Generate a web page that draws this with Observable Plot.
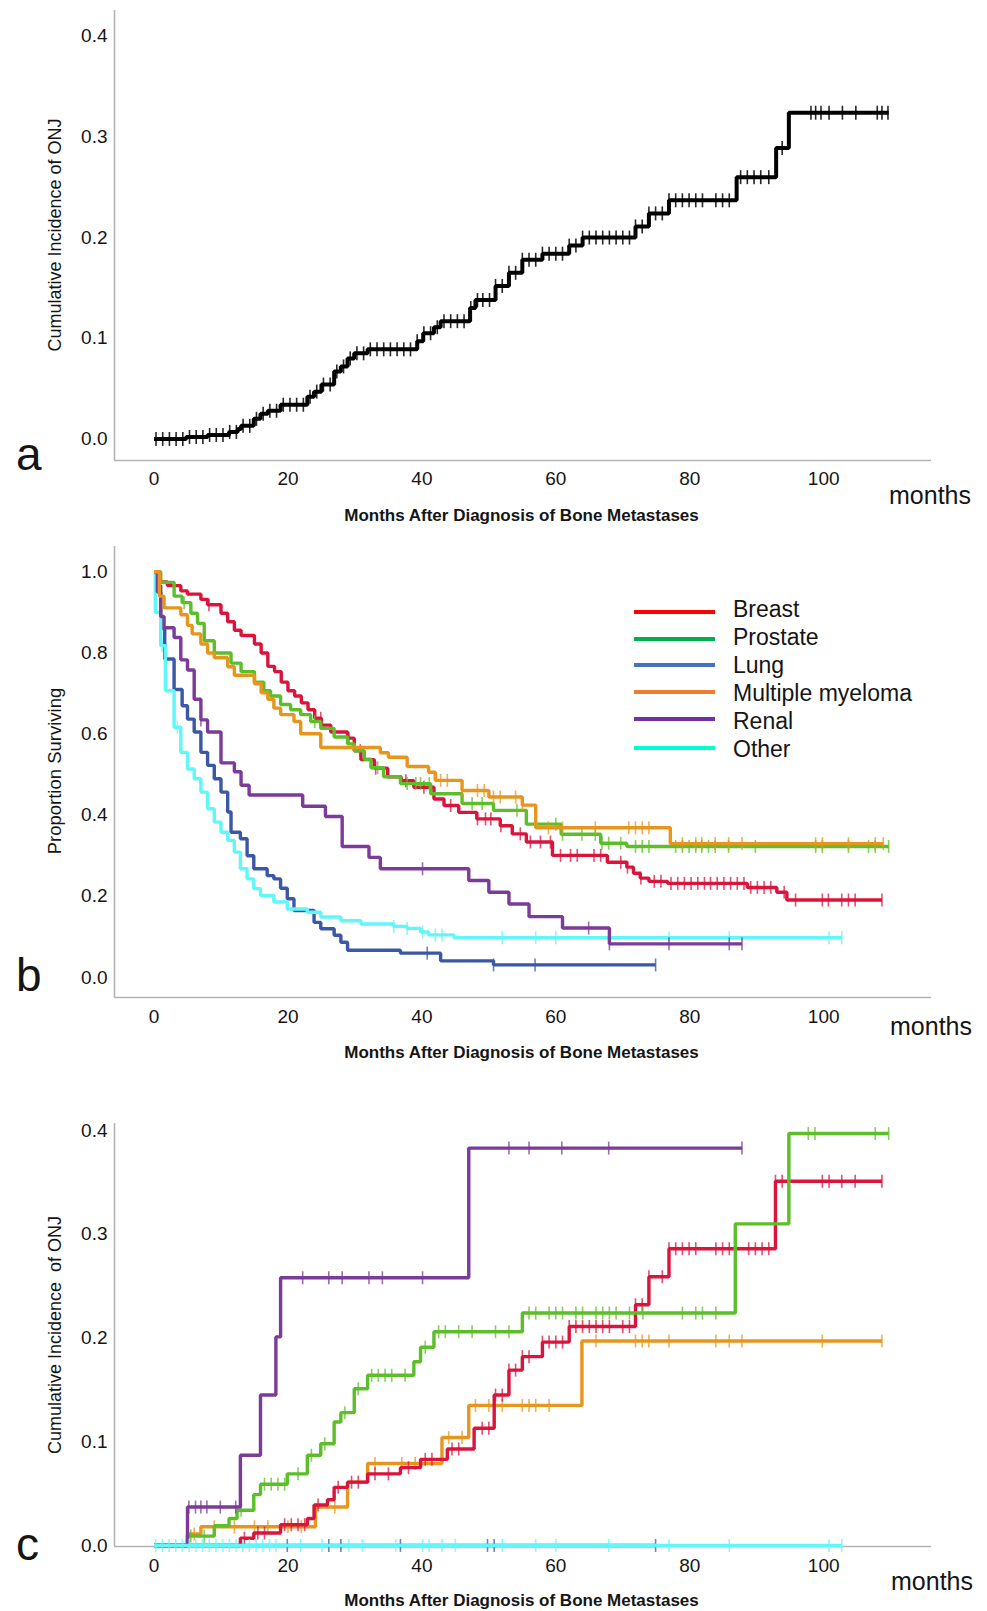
<!DOCTYPE html>
<html><head><meta charset="utf-8">
<script src="https://cdn.jsdelivr.net/npm/d3@7"></script>
<script src="https://cdn.jsdelivr.net/npm/@observablehq/plot@0.6"></script>
<style>
body{margin:0;background:#fff;}
#wrap{position:relative;width:987px;height:1611px;font-family:"Liberation Sans",Arial,sans-serif;color:#151515;overflow:hidden;background:#fff;}
.t{position:absolute;white-space:pre;line-height:1;}
.panel{position:absolute;left:0;}
.lg{position:absolute;height:4px;width:81px;}
</style></head><body><div id="wrap"></div>
<script>
// ---------- shared axis values ----------
const monthTicks = [0, 20, 40, 60, 80, 100];
const xDomain = [-5.9, 116.1];
const incidenceTicks = [0, 0.1, 0.2, 0.3, 0.4];
const survivalTicks = [0, 0.2, 0.4, 0.6, 0.8, 1.0];
const groups = ["Breast", "Prostate", "Lung", "Multiple myeloma", "Renal", "Other"];
const curveColors = ["#d9143d", "#5cbf2a", "#3b58a6", "#e8951d", "#7b3b98", "#60f7fb"];
const legendColors = ["#ff0000", "#00b050", "#4472c4", "#ed7d31", "#7030a0", "#00ffd0"];

// ---------- panel a: overall cumulative incidence of ONJ ----------
const allT = [0, 4.8, 8.0, 11.2, 12.5, 13.0, 14.9, 15.9, 17.0, 18.9, 22.9, 23.9, 25.0, 26.9, 27.9, 28.9, 29.9, 31.9, 39.3, 40.2, 41.8, 42.8, 47.2, 48.0, 51.0, 53.0, 55.0, 58.0, 62.0, 64.0, 71.9, 73.9, 76.9, 87.0, 92.9, 94.8, 109.7];
const allV = [0, 0.002, 0.004, 0.007, 0.010, 0.013, 0.020, 0.025, 0.028, 0.034, 0.042, 0.047, 0.054, 0.067, 0.072, 0.080, 0.085, 0.089, 0.097, 0.105, 0.111, 0.117, 0.130, 0.138, 0.152, 0.165, 0.178, 0.184, 0.192, 0.200, 0.211, 0.224, 0.237, 0.260, 0.289, 0.324, 0.324];
const allC = [0.3, 1.3, 2.3, 3.3, 4.3, 5.3, 6.3, 7.3, 8.3, 9.3, 10.3, 11.3, 12.3, 13.3, 14.3, 15.3, 16.3, 17.3, 18.3, 19.3, 20.3, 21.3, 22.3, 23.3, 24.3, 25.3, 26.3, 27.3, 28.3, 29.3, 30.3, 31.3, 32.3, 33.3, 34.3, 35.3, 36.3, 37.3, 38.3, 39.3, 40.3, 41.3, 42.3, 43.3, 44.3, 45.3, 46.3, 47.3, 48.3, 49.1, 50.1, 51.0, 52.0, 53.0, 54.0, 55.0, 56.0, 57.0, 58.0, 59.0, 60.0, 61.0, 62.0, 63.0, 64.0, 65.0, 66.0, 67.0, 68.0, 69.0, 70.0, 71.0, 71.9, 72.9, 73.9, 74.9, 75.9, 76.9, 77.9, 78.9, 79.9, 80.9, 81.9, 83.9, 84.9, 85.9, 87.6, 88.6, 89.6, 90.6, 91.8, 93.8, 98.1, 98.8, 99.6, 100.8, 102.8, 104.8, 108.0, 108.7, 109.6];

// ---------- panel b: survival by primary tumour ----------
const survBreastT = [0, 0.8, 2.0, 4.0, 5.0, 7.0, 8.0, 10.0, 11.0, 12.0, 13.0, 15.0, 16.0, 17.0, 18.0, 19.0, 20.0, 21.0, 22.0, 23.0, 24.0, 25.0, 26.4, 28.9, 29.9, 30.9, 32.9, 34.9, 36.9, 38.8, 41.8, 43.3, 45.5, 48.2, 51.7, 53.5, 55.6, 59.5, 67.7, 70.6, 71.6, 72.6, 73.9, 76.7, 88.6, 93.0, 94.5, 108.7];
const survBreastV = [1, 0.975, 0.966, 0.953, 0.945, 0.932, 0.919, 0.898, 0.877, 0.856, 0.843, 0.822, 0.800, 0.767, 0.754, 0.728, 0.707, 0.694, 0.677, 0.660, 0.639, 0.622, 0.605, 0.590, 0.559, 0.537, 0.516, 0.495, 0.485, 0.469, 0.440, 0.424, 0.407, 0.391, 0.374, 0.354, 0.334, 0.301, 0.284, 0.272, 0.257, 0.245, 0.237, 0.232, 0.222, 0.210, 0.191, 0.191];
const survBreastC = [8.2, 24.9, 29.1, 30.8, 33.1, 37.6, 40.3, 44.3, 48.3, 49.5, 50.3, 51.8, 54.7, 56.2, 57.7, 59.2, 60.7, 62.2, 63.2, 65.7, 66.7, 69.7, 70.7, 72.7, 74.7, 75.7, 77.2, 78.2, 79.2, 80.2, 81.2, 82.2, 83.1, 84.1, 85.1, 86.1, 87.1, 88.1, 89.1, 90.1, 91.1, 92.1, 94.1, 95.8, 99.8, 100.7, 102.7, 103.7, 104.7, 108.7];

const survProstateT = [0, 1.0, 3.0, 4.2, 5.5, 6.5, 7.5, 9.0, 11.5, 13.0, 15.0, 16.4, 17.4, 18.9, 20.4, 21.9, 23.4, 24.9, 26.9, 28.9, 29.9, 31.4, 32.4, 34.3, 36.8, 41.3, 46.0, 50.7, 55.6, 60.8, 66.7, 70.6, 109.7];
const survProstateV = [1, 0.974, 0.94, 0.924, 0.898, 0.873, 0.83, 0.80, 0.775, 0.754, 0.728, 0.707, 0.694, 0.673, 0.660, 0.648, 0.631, 0.614, 0.593, 0.576, 0.559, 0.538, 0.517, 0.495, 0.478, 0.453, 0.429, 0.412, 0.378, 0.353, 0.331, 0.323, 0.323];
const survProstateC = [4.5, 24.0, 33.4, 37.8, 39.1, 39.8, 41.1, 47.5, 49.0, 54.2, 60.0, 61.0, 63.9, 65.9, 66.9, 67.9, 69.7, 71.9, 72.9, 73.9, 77.9, 78.9, 79.9, 80.9, 81.8, 82.8, 83.8, 85.8, 89.8, 98.8, 99.8, 103.7, 106.7, 107.7, 109.7];

const survLungT = [0, 0.5, 1.0, 1.6, 3.0, 4.2, 5.0, 6.0, 7.0, 8.0, 9.0, 10.0, 11.0, 11.5, 12.9, 13.9, 14.9, 16.9, 17.9, 18.9, 19.9, 20.9, 23.9, 24.9, 26.9, 27.9, 28.9, 36.8, 42.8, 50.7, 74.9];
const survLungV = [1, 0.966, 0.86, 0.785, 0.71, 0.67, 0.637, 0.605, 0.555, 0.523, 0.49, 0.457, 0.408, 0.358, 0.342, 0.30, 0.268, 0.251, 0.243, 0.22, 0.194, 0.165, 0.136, 0.12, 0.104, 0.087, 0.067, 0.06, 0.041, 0.031, 0.031];
const survLungC = [1.6, 40.8, 50.7, 56.9, 74.9];

const survMyelomaT = [0, 0.8, 1.5, 4.0, 5.0, 5.7, 7.0, 8.0, 9.0, 11.0, 12.0, 15.0, 16.0, 17.0, 17.9, 18.9, 20.9, 21.9, 24.9, 33.8, 35.0, 37.8, 41.0, 42.0, 46.0, 50.0, 55.0, 57.0, 77.1, 108.9];
const survMyelomaV = [1, 0.94, 0.911, 0.894, 0.868, 0.847, 0.822, 0.800, 0.788, 0.766, 0.745, 0.724, 0.702, 0.686, 0.664, 0.648, 0.631, 0.601, 0.567, 0.554, 0.543, 0.520, 0.506, 0.486, 0.461, 0.445, 0.425, 0.369, 0.330, 0.330];
const survMyelomaC = [42.8, 43.8, 46.0, 48.3, 49.3, 50.7, 51.7, 54.0, 55.0, 58.9, 61.0, 65.9, 70.9, 71.9, 72.9, 73.9, 78.9, 80.9, 81.8, 83.8, 85.8, 87.8, 98.8, 99.8, 103.7, 107.7, 108.9];

const survRenalT = [0, 0.5, 1.0, 1.5, 3.0, 4.0, 5.0, 6.0, 7.0, 8.0, 10.0, 12.0, 13.0, 14.2, 22.2, 25.6, 28.1, 32.1, 33.8, 47.0, 50.0, 53.0, 56.0, 61.0, 68.0, 87.8];
const survRenalV = [1, 0.95, 0.89, 0.862, 0.838, 0.783, 0.758, 0.686, 0.635, 0.605, 0.529, 0.507, 0.474, 0.450, 0.422, 0.397, 0.323, 0.296, 0.268, 0.239, 0.210, 0.181, 0.150, 0.122, 0.083, 0.083];
const survRenalC = [7.0, 40.1, 64.9, 68.0, 76.9, 85.9, 87.8];

const survOtherT = [0, 0.2, 1.0, 1.7, 3.0, 4.0, 5.0, 6.0, 7.0, 8.0, 9.0, 10.0, 11.0, 12.0, 12.9, 13.9, 14.9, 15.9, 17.9, 19.9, 22.9, 24.9, 27.9, 30.9, 35.8, 37.8, 39.8, 41.0, 44.8, 102.7];
const survOtherV = [1, 0.90, 0.818, 0.707, 0.617, 0.555, 0.514, 0.49, 0.457, 0.416, 0.383, 0.358, 0.338, 0.309, 0.268, 0.243, 0.219, 0.202, 0.186, 0.169, 0.161, 0.149, 0.14, 0.132, 0.126, 0.121, 0.112, 0.105, 0.098, 0.098];
const survOtherC = [1.2, 3.5, 35.8, 37.8, 40.1, 42.0, 43.0, 52.0, 57.0, 60.0, 68.0, 76.9, 85.9, 100.8, 102.7];

// ---------- panel c: cumulative incidence of ONJ by primary tumour ----------
const incBreastT = [0, 12.9, 14.9, 18.9, 22.9, 23.9, 25.9, 26.9, 28.9, 31.9, 36.8, 39.8, 43.8, 47.8, 50.8, 53.0, 55.0, 58.0, 62.0, 71.9, 73.9, 76.9, 92.8, 108.7];
const incBreastV = [0, 0.007, 0.012, 0.020, 0.026, 0.039, 0.044, 0.056, 0.061, 0.069, 0.075, 0.083, 0.093, 0.113, 0.145, 0.169, 0.182, 0.196, 0.211, 0.232, 0.259, 0.286, 0.351, 0.351];
const incBreastC = [13.5, 15.5, 16.5, 19.5, 20.5, 21.5, 22.5, 24.5, 27.5, 29.5, 30.5, 33.0, 35.0, 38.0, 40.5, 41.5, 44.5, 45.5, 49.0, 50.0, 51.0, 52.0, 53.0, 54.0, 55.0, 56.0, 58.0, 59.0, 60.0, 61.0, 62.0, 63.0, 64.0, 65.0, 66.0, 67.0, 68.0, 70.0, 71.0, 71.9, 72.9, 73.9, 75.9, 76.9, 77.9, 78.9, 79.9, 80.9, 83.9, 84.9, 85.9, 86.8, 88.8, 89.8, 90.8, 91.8, 92.8, 93.8, 99.8, 100.8, 102.7, 104.7, 108.7];

const incProstateT = [0, 5.0, 9.0, 11.2, 12.4, 14.9, 15.9, 19.9, 22.9, 24.9, 26.9, 27.9, 29.9, 31.9, 38.8, 39.8, 41.8, 55.0, 86.8, 94.8, 109.7];
const incProstateV = [0, 0.009, 0.019, 0.026, 0.034, 0.049, 0.059, 0.069, 0.087, 0.098, 0.119, 0.128, 0.151, 0.164, 0.177, 0.191, 0.206, 0.224, 0.310, 0.397, 0.397];
const incProstateC = [5.5, 7.5, 13.0, 16.5, 17.5, 18.5, 19.5, 21.5, 23.5, 25.5, 28.5, 30.5, 32.5, 33.5, 34.5, 35.5, 37.5, 40.5, 42.5, 43.5, 45.5, 47.5, 51.0, 53.0, 56.0, 57.0, 59.0, 60.0, 61.0, 63.0, 64.0, 66.0, 67.0, 68.0, 69.0, 71.0, 73.0, 78.9, 80.9, 81.9, 83.9, 97.7, 98.7, 107.7, 109.7];

const incLungT = [0, 74.9];
const incLungV = [0, 0];
const incLungC = [19.9, 26.1, 27.9, 36.8, 49.8, 50.8, 74.9];

const incMyelomaT = [0, 5.0, 7.0, 24.1, 28.9, 31.9, 43.0, 47.0, 63.9, 108.7];
const incMyelomaV = [0, 0.011, 0.018, 0.037, 0.061, 0.079, 0.104, 0.135, 0.197, 0.197];
const incMyelomaC = [6.0, 9.0, 12.0, 15.0, 17.0, 20.0, 22.0, 27.0, 33.0, 37.0, 39.0, 44.0, 46.0, 48.0, 50.0, 52.0, 55.0, 56.0, 57.0, 59.0, 66.0, 71.9, 72.9, 73.9, 76.9, 83.9, 85.9, 87.8, 99.8, 108.7];

const incRenalT = [0, 5.0, 12.9, 15.9, 18.2, 18.9, 47.0, 87.8];
const incRenalV = [0, 0.037, 0.087, 0.145, 0.201, 0.258, 0.383, 0.383];
const incRenalC = [5.2, 6.2, 7.0, 7.9, 9.9, 12.2, 22.2, 26.1, 28.1, 32.1, 34.1, 40.1, 53.0, 56.0, 60.9, 67.9, 87.8];

const incOtherT = [0, 102.7];
const incOtherV = [0, 0];
const incOtherC = [0.25, 1.25, 2.25, 3.25, 4.25, 5.25, 6.25, 7.25, 8.25, 9.25, 10.25, 11.25, 12.25, 13.25, 14.25, 15.25, 16.25, 17.25, 18.2, 21.9, 25.1, 29.1, 31.1, 36.1, 40.1, 41.1, 43.0, 45.0, 52.0, 57.0, 60.0, 67.9, 76.9, 85.9, 100.8, 102.7];

// ---------- legend layout ----------
const legendLineY = [612, 638.5, 665, 692, 719, 748];
const legendTextBase = [617, 645, 673, 701, 729, 757];

// ---------- helpers ----------
const vbar = { draw(ctx, size) { const h = Math.sqrt(size / Math.PI); ctx.moveTo(0, -h); ctx.lineTo(0, h); } };
function stepAt(T, V, t) { let v = V[0]; for (let i = 0; i < T.length; i++) { if (T[i] <= t + 1e-9) v = V[i]; else break; } return v; }

const wrap = document.getElementById("wrap");
const axisGray = "#b4b4b4";

function panel({top, height, marginTop, marginBottom, yDomain, yTicks, series, lineWidth, tickR, xPad}) {
  const marks = [
    Plot.ruleX([xDomain[0]], {stroke: axisGray, strokeWidth: 1.6}),
    Plot.ruleY([yDomain[0]], {stroke: axisGray, strokeWidth: 1.6}),
    Plot.axisX({ticks: monthTicks, tickSize: 0, tickPadding: xPad, label: null}),
    Plot.axisY({ticks: yTicks, tickSize: 0, tickPadding: 7, tickFormat: ".1f", label: null})
  ];
  for (const s of series) {
    const pts = s.t.map((t, i) => ({t, v: s.v[i]}));
    marks.push(Plot.line(pts, {x: "t", y: "v", curve: "step-after", stroke: s.color, strokeWidth: lineWidth, strokeLinejoin: "miter", strokeLinecap: "butt"}));
    const cens = s.c.map(t => ({t, v: stepAt(s.t, s.v, t)}));
    marks.push(Plot.dot(cens, {x: "t", y: "v", symbol: vbar, r: tickR, stroke: s.color, strokeOpacity: s.tickOpacity ?? 0.75, strokeWidth: 1.6, fill: "none"}));
  }
  const svg = Plot.plot({
    width: 987, height, marginTop, marginBottom, marginLeft: 114, marginRight: 56,
    x: {domain: xDomain, label: null},
    y: {domain: yDomain, label: null},
    style: {fontSize: "19px", fontFamily: "'Liberation Sans', Arial, sans-serif", color: "#151515", background: "transparent", overflow: "visible"},
    marks
  });
  const d = document.createElement("div");
  d.className = "panel"; d.style.top = top + "px";
  d.appendChild(svg);
  wrap.appendChild(d);
}

function text(str, {left, baseline, size, weight = "normal", center = false}) {
  const d = document.createElement("div");
  d.className = "t"; d.textContent = str;
  d.style.fontSize = size + "px"; d.style.fontWeight = weight;
  d.style.left = left + "px"; d.style.top = (baseline - 0.8465 * size) + "px";
  if (center) d.style.transform = "translateX(-50%)";
  wrap.appendChild(d);
}
function vtext(str, {cx, cy, size}) {
  const d = document.createElement("div");
  d.className = "t"; d.textContent = str;
  d.style.fontSize = size + "px";
  d.style.left = cx + "px"; d.style.top = cy + "px";
  d.style.transform = "translate(-50%,-50%) rotate(-90deg)";
  wrap.appendChild(d);
}

// panel a
panel({top: 0, height: 500, marginTop: 10, marginBottom: 40, yDomain: [-0.0214, 0.4255], yTicks: incidenceTicks, lineWidth: 4, tickR: 7, xPad: 11,
  series: [{t: allT, v: allV, c: allC, color: "#000", tickOpacity: 0.85}]});

// panel b
const survSeries = [
  {t: survLungT, v: survLungV, c: survLungC, color: curveColors[2]},
  {t: survOtherT, v: survOtherV, c: survOtherC, color: curveColors[5]},
  {t: survRenalT, v: survRenalV, c: survRenalC, color: curveColors[4]},
  {t: survBreastT, v: survBreastV, c: survBreastC, color: curveColors[0]},
  {t: survProstateT, v: survProstateV, c: survProstateC, color: curveColors[1]},
  {t: survMyelomaT, v: survMyelomaV, c: survMyelomaC, color: curveColors[3]}
];
panel({top: 530, height: 507, marginTop: 16, marginBottom: 40, yDomain: [-0.0493, 1.0624], yTicks: survivalTicks, lineWidth: 3.4, tickR: 6.5, xPad: 12, series: survSeries});

// panel c
const incSeries = [
  {t: incMyelomaT, v: incMyelomaV, c: incMyelomaC, color: curveColors[3]},
  {t: incBreastT, v: incBreastV, c: incBreastC, color: curveColors[0]},
  {t: incProstateT, v: incProstateV, c: incProstateC, color: curveColors[1]},
  {t: incRenalT, v: incRenalV, c: incRenalC, color: curveColors[4]},
  {t: incLungT, v: incLungV, c: incLungC, color: curveColors[2]},
  {t: incOtherT, v: incOtherV, c: incOtherC, color: curveColors[5]}
];
panel({top: 1110, height: 476, marginTop: 13, marginBottom: 40, yDomain: [-0.001, 0.4067], yTicks: incidenceTicks, lineWidth: 3.4, tickR: 6.5, xPad: 12, series: incSeries});

// titles and labels
const xTitle = "Months After Diagnosis of Bone Metastases";
text(xTitle, {left: 521.5, baseline: 521, size: 17, weight: "bold", center: true});
text(xTitle, {left: 521.5, baseline: 1058, size: 17, weight: "bold", center: true});
text(xTitle, {left: 521.5, baseline: 1606, size: 17, weight: "bold", center: true});
vtext("Cumulative Incidence of ONJ", {cx: 55, cy: 235, size: 18});
vtext("Proportion Surviving", {cx: 55, cy: 771, size: 18.5});
vtext("Cumulative Incidence  of ONJ", {cx: 55, cy: 1335, size: 18});
text("months", {left: 889, baseline: 504, size: 25});
text("months", {left: 890, baseline: 1035, size: 25});
text("months", {left: 891, baseline: 1590, size: 25});
text("a", {left: 16, baseline: 470, size: 46});
text("b", {left: 16, baseline: 991, size: 46});
text("c", {left: 16, baseline: 1560, size: 46});

// legend (panel b)
groups.forEach((g, i) => {
  const ln = document.createElement("div");
  ln.className = "lg"; ln.style.left = "634px"; ln.style.top = (legendLineY[i] - 2) + "px"; ln.style.background = legendColors[i];
  wrap.appendChild(ln);
  text(g, {left: 733, baseline: legendTextBase[i], size: 23});
});
</script>
</body></html>
